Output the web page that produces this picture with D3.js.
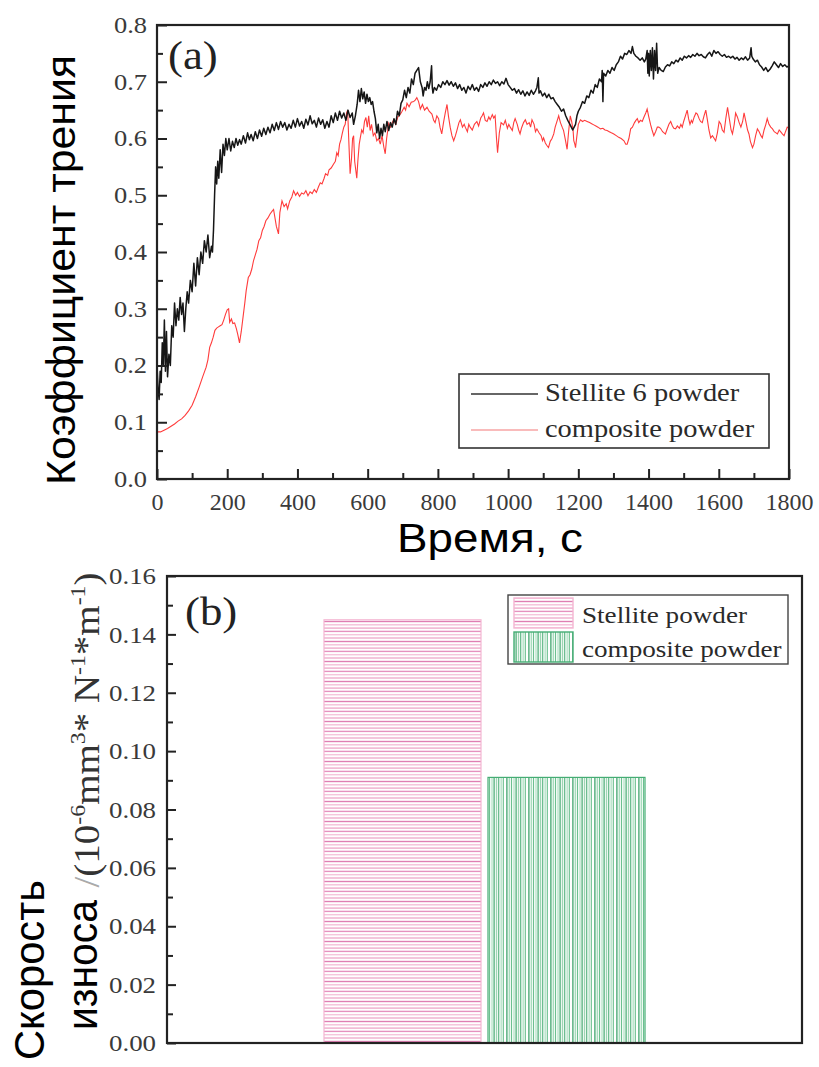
<!DOCTYPE html>
<html><head><meta charset="utf-8">
<script src="https://cdn.jsdelivr.net/npm/d3@7"></script>
<style>html,body{margin:0;padding:0;background:#fff}svg{display:block}</style>
</head><body><svg id="c" width="819" height="1067"></svg>
<script>
// ---------- DATA (a): friction coefficient vs time ----------
const timeTicks = [0,200,400,600,800,1000,1200,1400,1600,1800];
const cofTicks = [0.0,0.1,0.2,0.3,0.4,0.5,0.6,0.7,0.8];
const seriesNames = ["Stellite 6 powder","composite powder"];
const stellite = [[0,0.20],[3,0.16],[6,0.14],[9,0.19],[12,0.17],[15,0.24],[18,0.20],[21,0.28],[24,0.19],[27,0.26],[30,0.18],[34,0.22],[38,0.20],[42,0.27],[46,0.25],[50,0.31],[54,0.27],[58,0.30],[62,0.28],[66,0.32],[70,0.29],[74,0.31],[78,0.26],[82,0.30],[86,0.33],[90,0.31],[95,0.35],[100,0.33],[105,0.38],[110,0.34],[115,0.39],[120,0.36],[125,0.40],[130,0.38],[135,0.42],[140,0.40],[145,0.43],[150,0.39],[155,0.41],[158,0.40],[161,0.44],[164,0.50],[167,0.55],[170,0.52],[173,0.56],[176,0.53],[180,0.58],[184,0.54],[188,0.59],[192,0.57],[196,0.60],[200,0.58],[205,0.60],[210,0.578],[215,0.595],[220,0.584],[225,0.60],[230,0.588],[235,0.598],[240,0.59],[246,0.605],[252,0.592],[258,0.61],[263,0.598],[268,0.607],[274,0.596],[280,0.612],[286,0.60],[292,0.615],[298,0.604],[304,0.618],[310,0.607],[316,0.62],[322,0.61],[328,0.625],[334,0.614],[340,0.628],[346,0.616],[352,0.63],[358,0.62],[364,0.628],[370,0.615],[376,0.625],[382,0.618],[388,0.632],[394,0.62],[400,0.635],[406,0.622],[412,0.63],[418,0.618],[424,0.634],[430,0.624],[436,0.64],[442,0.626],[448,0.632],[454,0.62],[460,0.636],[466,0.625],[472,0.633],[478,0.618],[484,0.63],[490,0.62],[496,0.64],[502,0.628],[508,0.645],[514,0.632],[520,0.648],[526,0.636],[532,0.645],[538,0.632],[544,0.65],[550,0.637],[556,0.645],[560,0.625],[565,0.64],[570,0.66],[574,0.685],[578,0.665],[582,0.688],[586,0.67],[590,0.682],[594,0.662],[598,0.678],[602,0.665],[606,0.672],[610,0.66],[614,0.665],[618,0.648],[622,0.635],[626,0.61],[630,0.625],[634,0.60],[638,0.618],[642,0.605],[646,0.625],[650,0.612],[655,0.63],[660,0.614],[665,0.628],[670,0.62],[675,0.635],[680,0.625],[685,0.648],[690,0.64],[695,0.662],[700,0.668],[705,0.685],[710,0.672],[715,0.69],[720,0.68],[725,0.705],[730,0.695],[735,0.715],[740,0.72],[745,0.725],[750,0.70],[755,0.69],[758,0.675],[762,0.69],[766,0.685],[770,0.70],[774,0.688],[778,0.70],[782,0.728],[784,0.69],[786,0.68],[790,0.69],[796,0.685],[802,0.695],[808,0.69],[814,0.70],[820,0.695],[826,0.702],[832,0.694],[838,0.70],[844,0.692],[850,0.698],[856,0.688],[862,0.695],[868,0.685],[874,0.69],[880,0.68],[886,0.692],[892,0.686],[898,0.695],[904,0.685],[910,0.69],[916,0.683],[922,0.695],[928,0.69],[934,0.698],[940,0.692],[946,0.70],[952,0.695],[958,0.703],[964,0.697],[970,0.70],[976,0.693],[982,0.70],[988,0.696],[994,0.706],[1000,0.695],[1006,0.69],[1012,0.685],[1018,0.688],[1024,0.68],[1030,0.686],[1036,0.678],[1042,0.684],[1048,0.675],[1054,0.682],[1060,0.676],[1066,0.685],[1072,0.678],[1078,0.684],[1082,0.69],[1086,0.707],[1088,0.68],[1092,0.684],[1098,0.675],[1104,0.68],[1110,0.672],[1116,0.678],[1122,0.67],[1128,0.672],[1134,0.665],[1140,0.66],[1146,0.655],[1152,0.648],[1158,0.652],[1164,0.64],[1170,0.632],[1176,0.625],[1180,0.62],[1184,0.615],[1188,0.62],[1192,0.625],[1196,0.64],[1200,0.648],[1206,0.655],[1212,0.665],[1218,0.662],[1224,0.675],[1230,0.672],[1236,0.685],[1242,0.68],[1248,0.695],[1254,0.69],[1260,0.705],[1266,0.70],[1268,0.72],[1270,0.665],[1272,0.715],[1278,0.71],[1284,0.72],[1290,0.715],[1296,0.725],[1302,0.72],[1308,0.73],[1314,0.735],[1320,0.745],[1326,0.74],[1332,0.75],[1338,0.748],[1344,0.755],[1350,0.75],[1354,0.762],[1358,0.75],[1364,0.745],[1370,0.742],[1376,0.738],[1382,0.742],[1388,0.735],[1392,0.74],[1396,0.755],[1398,0.715],[1400,0.75],[1402,0.71],[1405,0.755],[1408,0.72],[1411,0.76],[1414,0.705],[1417,0.755],[1420,0.72],[1423,0.768],[1426,0.715],[1430,0.725],[1436,0.72],[1442,0.718],[1448,0.726],[1454,0.73],[1460,0.728],[1466,0.735],[1472,0.732],[1478,0.738],[1484,0.735],[1490,0.742],[1496,0.738],[1502,0.745],[1508,0.742],[1514,0.746],[1520,0.743],[1526,0.748],[1532,0.745],[1538,0.75],[1544,0.746],[1550,0.748],[1556,0.744],[1562,0.742],[1568,0.748],[1574,0.752],[1580,0.745],[1586,0.755],[1592,0.75],[1598,0.753],[1604,0.748],[1610,0.745],[1616,0.748],[1622,0.743],[1628,0.745],[1634,0.742],[1640,0.745],[1646,0.74],[1652,0.743],[1658,0.738],[1664,0.742],[1670,0.739],[1676,0.744],[1682,0.738],[1688,0.742],[1692,0.76],[1694,0.745],[1698,0.74],[1704,0.735],[1710,0.738],[1716,0.73],[1722,0.726],[1728,0.72],[1734,0.725],[1740,0.718],[1746,0.722],[1752,0.728],[1758,0.735],[1764,0.73],[1770,0.725],[1776,0.732],[1782,0.727],[1788,0.73],[1794,0.726],[1800,0.728]];
const composite = [[0,0.083],[10,0.083],[20,0.086],[30,0.089],[40,0.093],[50,0.097],[60,0.102],[70,0.106],[80,0.112],[90,0.12],[100,0.13],[110,0.145],[120,0.162],[130,0.18],[140,0.197],[145,0.21],[150,0.232],[155,0.24],[160,0.25],[165,0.262],[170,0.266],[175,0.268],[180,0.27],[185,0.272],[190,0.28],[195,0.29],[200,0.298],[204,0.30],[207,0.276],[212,0.282],[216,0.274],[221,0.275],[226,0.265],[230,0.255],[235,0.24],[240,0.26],[244,0.28],[250,0.31],[254,0.332],[260,0.355],[265,0.36],[270,0.37],[275,0.385],[280,0.395],[285,0.405],[290,0.42],[295,0.425],[300,0.438],[305,0.445],[310,0.455],[316,0.46],[322,0.467],[328,0.472],[332,0.475],[336,0.46],[340,0.445],[346,0.432],[350,0.47],[356,0.49],[362,0.48],[368,0.485],[372,0.476],[378,0.49],[384,0.497],[389,0.508],[395,0.5],[400,0.505],[406,0.498],[412,0.504],[418,0.502],[424,0.508],[430,0.499],[436,0.506],[442,0.503],[448,0.51],[454,0.505],[460,0.515],[465,0.522],[470,0.52],[476,0.53],[480,0.538],[486,0.535],[490,0.545],[496,0.548],[503,0.555],[508,0.56],[512,0.575],[516,0.57],[520,0.59],[524,0.598],[528,0.61],[532,0.62],[536,0.625],[540,0.645],[543,0.65],[546,0.6],[550,0.538],[554,0.565],[557,0.6],[560,0.605],[563,0.56],[566,0.545],[569,0.53],[572,0.56],[576,0.59],[579,0.601],[583,0.615],[587,0.61],[591,0.63],[595,0.637],[599,0.62],[603,0.64],[607,0.614],[611,0.625],[616,0.605],[621,0.61],[626,0.596],[631,0.6],[636,0.59],[641,0.605],[646,0.585],[650,0.573],[654,0.6],[660,0.627],[665,0.62],[670,0.628],[674,0.633],[680,0.625],[686,0.638],[693,0.643],[698,0.648],[704,0.655],[708,0.65],[712,0.662],[718,0.656],[724,0.664],[731,0.665],[736,0.668],[740,0.672],[745,0.665],[750,0.652],[756,0.66],[762,0.65],[769,0.655],[775,0.648],[783,0.643],[788,0.632],[792,0.628],[797,0.64],[802,0.635],[806,0.62],[811,0.608],[816,0.628],[821,0.645],[826,0.66],[830,0.64],[835,0.62],[840,0.605],[845,0.596],[850,0.605],[854,0.614],[860,0.628],[864,0.633],[870,0.62],[875,0.625],[878,0.62],[884,0.612],[888,0.625],[892,0.62],[898,0.615],[904,0.625],[911,0.63],[916,0.622],[922,0.636],[926,0.64],[930,0.645],[935,0.632],[940,0.63],[945,0.638],[949,0.633],[955,0.642],[959,0.636],[963,0.64],[967,0.6],[970,0.575],[975,0.61],[980,0.628],[987,0.624],[992,0.632],[998,0.618],[1002,0.625],[1006,0.62],[1012,0.614],[1016,0.628],[1020,0.635],[1026,0.625],[1030,0.615],[1034,0.608],[1038,0.618],[1044,0.628],[1049,0.633],[1054,0.625],[1060,0.628],[1064,0.62],[1068,0.633],[1074,0.625],[1078,0.612],[1082,0.617],[1088,0.61],[1094,0.605],[1098,0.596],[1101,0.601],[1106,0.592],[1110,0.588],[1115,0.584],[1120,0.595],[1125,0.6],[1130,0.608],[1134,0.62],[1140,0.632],[1144,0.64],[1149,0.628],[1154,0.62],[1158,0.614],[1163,0.598],[1168,0.581],[1172,0.61],[1177,0.64],[1181,0.63],[1185,0.615],[1187,0.596],[1190,0.59],[1192,0.584],[1196,0.605],[1200,0.625],[1206,0.633],[1212,0.63],[1218,0.632],[1225,0.63],[1232,0.628],[1238,0.626],[1244,0.624],[1250,0.622],[1256,0.62],[1263,0.617],[1270,0.618],[1276,0.615],[1282,0.614],[1288,0.612],[1294,0.61],[1301,0.608],[1308,0.605],[1315,0.602],[1322,0.6],[1330,0.596],[1335,0.59],[1339,0.59],[1344,0.6],[1349,0.617],[1354,0.62],[1360,0.628],[1364,0.632],[1368,0.635],[1372,0.628],[1377,0.632],[1382,0.63],[1387,0.638],[1392,0.645],[1396,0.652],[1400,0.64],[1406,0.624],[1410,0.615],[1415,0.605],[1420,0.612],[1425,0.62],[1429,0.62],[1434,0.618],[1440,0.612],[1444,0.61],[1448,0.608],[1452,0.615],[1458,0.625],[1463,0.63],[1468,0.622],[1472,0.618],[1477,0.617],[1482,0.622],[1488,0.618],[1492,0.625],[1496,0.62],[1500,0.63],[1505,0.64],[1510,0.65],[1514,0.635],[1518,0.625],[1522,0.632],[1525,0.628],[1530,0.638],[1535,0.645],[1539,0.643],[1544,0.635],[1548,0.63],[1553,0.628],[1558,0.64],[1563,0.65],[1567,0.635],[1572,0.615],[1577,0.601],[1582,0.605],[1587,0.6],[1591,0.596],[1596,0.61],[1601,0.63],[1606,0.625],[1610,0.615],[1615,0.611],[1620,0.635],[1625,0.655],[1630,0.635],[1635,0.615],[1639,0.608],[1644,0.625],[1648,0.645],[1653,0.638],[1658,0.628],[1663,0.62],[1668,0.63],[1672,0.645],[1677,0.63],[1682,0.615],[1686,0.608],[1690,0.595],[1696,0.584],[1700,0.59],[1705,0.605],[1710,0.617],[1715,0.612],[1720,0.605],[1724,0.601],[1729,0.615],[1734,0.625],[1738,0.635],[1743,0.625],[1748,0.62],[1753,0.617],[1758,0.612],[1763,0.61],[1767,0.608],[1772,0.615],[1776,0.612],[1781,0.608],[1786,0.605],[1790,0.612],[1795,0.62],[1800,0.618]];

// ---------- DATA (b): wear rate ----------
const barCategories = ["Stellite powder","composite powder"];
const wearRates = [0.145, 0.091];
const wearTicks = [0.00,0.02,0.04,0.06,0.08,0.10,0.12,0.14,0.16];

// ---------- DRAW ----------
const svg = d3.select("#c");
const SERIF = "'Liberation Serif','Times New Roman',serif";
const SANS = "'Liberation Sans',Arial,sans-serif";
function stretch(sel, k){ sel.each(function(){ const w=this.getComputedTextLength(); this.setAttribute("textLength", w*k); this.setAttribute("lengthAdjust","spacingAndGlyphs"); }); }

const defs = svg.append("defs");
// pink horizontal hatch
const pp = defs.append("pattern").attr("id","pinkHatch").attr("patternUnits","userSpaceOnUse").attr("width",10).attr("height",20);
[[0.8,"#df7fb3"],[4.1,"#f4c0d9"],[7.4,"#eeaccc"],[10.7,"#e592bf"],[14.0,"#f5c6dc"],[17.3,"#eeaecd"]].forEach(([yy,c])=>{
  pp.append("rect").attr("x",0).attr("y",yy).attr("width",10).attr("height",1.4).attr("fill",c);
});
// green vertical hatch
const gp = defs.append("pattern").attr("id","greenHatch").attr("patternUnits","userSpaceOnUse").attr("width",22).attr("height",10);
[[0.3,"#2f9c60",1.2],[2.6,"#a8dcbd",1.4],[4.9,"#6cc08f",1.2],[7.2,"#c2e8d1",1.6],[9.5,"#3fa86d",1.2],[11.8,"#9ed5b4",1.4],[14.1,"#5db684",1.2],[16.4,"#bfe6cf",1.6],[18.7,"#7cc79b",1.3]].forEach(([xx,c,w])=>{
  gp.append("rect").attr("x",xx).attr("y",0).attr("width",w).attr("height",10).attr("fill",c);
});

// ===== Panel (a) =====
const A = {l:157, r:789, t:25, b:479};
const xA = d3.scaleLinear().domain([0,1800]).range([A.l, A.r]);
const yA = d3.scaleLinear().domain([0,0.8]).range([A.b, A.t]);
const gA = svg.append("g");

defs.append("clipPath").attr("id","clipA").append("rect").attr("x",A.l).attr("y",A.t).attr("width",A.r-A.l).attr("height",A.b-A.t);

const line = d3.line().x(d=>xA(d[0])).y(d=>yA(d[1]));
gA.append("path").datum(composite).attr("d",line).attr("fill","none").attr("stroke","#ff3b3b").attr("stroke-width",1.1).attr("clip-path","url(#clipA)");
gA.append("path").datum(stellite).attr("d",line).attr("fill","none").attr("stroke","#161616").attr("stroke-width",1.5).attr("stroke-linejoin","round").attr("clip-path","url(#clipA)");

// minor ticks
gA.append("g").attr("transform",`translate(0,${A.b})`)
  .call(d3.axisBottom(xA).tickValues(d3.range(100,1800,200)).tickSize(-6).tickFormat(""))
  .call(g=>g.select(".domain").remove()).selectAll("line").attr("stroke","#222").attr("stroke-width",2);
gA.append("g").attr("transform",`translate(${A.l},0)`)
  .call(d3.axisLeft(yA).tickValues(d3.range(0.05,0.8,0.1)).tickSize(-6).tickFormat(""))
  .call(g=>g.select(".domain").remove()).selectAll("line").attr("stroke","#222").attr("stroke-width",2);
// major ticks
const axXA = gA.append("g").attr("transform",`translate(0,${A.b})`)
  .call(d3.axisBottom(xA).tickValues(timeTicks).tickSize(-10).tickPadding(14).tickFormat(d3.format("d")))
  .call(g=>g.select(".domain").remove());
axXA.selectAll("line").attr("stroke","#222").attr("stroke-width",2);
axXA.selectAll("text").attr("font-family",SERIF).attr("font-size",24).attr("fill","#3a3a3a").attr("dy","0.71em");
const axYA = gA.append("g").attr("transform",`translate(${A.l},0)`)
  .call(d3.axisLeft(yA).tickValues(cofTicks).tickSize(-10).tickPadding(10).tickFormat(d3.format(".1f")))
  .call(g=>g.select(".domain").remove());
axYA.selectAll("line").attr("stroke","#222").attr("stroke-width",2);
axYA.selectAll("text").attr("font-family",SERIF).attr("font-size",23).attr("fill","#3a3a3a");
stretch(axYA.selectAll("text"),1.15);
gA.append("rect").attr("x",A.l).attr("y",A.t).attr("width",A.r-A.l).attr("height",A.b-A.t).attr("fill","none").attr("stroke","#222").attr("stroke-width",2.2);

gA.append("text").attr("x",168).attr("y",69).attr("font-family",SERIF).attr("font-size",40).attr("fill","#222").text("(a)").call(s=>stretch(s,1.12));

// legend (a)
const lgA = gA.append("g");
lgA.append("rect").attr("x",459).attr("y",374).attr("width",310).attr("height",74).attr("fill","#fff").attr("stroke","#333").attr("stroke-width",1.6);
const legColorsA = ["#333","#f7a5a5"];
seriesNames.forEach((n,i)=>{
  const yy = 394 + i*36;
  lgA.append("line").attr("x1",471).attr("x2",538).attr("y1",yy).attr("y2",yy).attr("stroke",legColorsA[i]).attr("stroke-width",1.5);
  lgA.append("text").attr("x",545).attr("y",yy+7).attr("font-family",SERIF).attr("font-size",24.5).attr("fill","#2a2a2a").text(n).call(s=>stretch(s,1.16));
});

// axis titles (a)
svg.append("text").attr("x",490).attr("y",552).attr("text-anchor","middle").attr("font-family",SANS).attr("font-size",41).attr("fill","#000")
  .attr("textLength",186).attr("lengthAdjust","spacingAndGlyphs").text("Время, с");
svg.append("text").attr("transform","translate(75,270) rotate(-90)").attr("text-anchor","middle").attr("font-family",SANS).attr("font-size",41).attr("fill","#000")
  .attr("textLength",430).attr("lengthAdjust","spacingAndGlyphs").text("Коэффициент трения");

// ===== Panel (b) =====
const B = {l:167, r:802, t:576, b:1043};
const yB = d3.scaleLinear().domain([0,0.16]).range([B.b, B.t]);
const xB = d3.scaleBand().domain(barCategories).range([324,645]).paddingInner(0.0427).paddingOuter(0);
const gB = svg.append("g");
const barFills = ["url(#pinkHatch)","url(#greenHatch)"];
const barStrokes = ["#f4b6d2","#45ad74"];
gB.selectAll("rect.bar").data(barCategories).join("rect").attr("class","bar")
  .attr("x",d=>xB(d)).attr("width",xB.bandwidth())
  .attr("y",(d,i)=>yB(wearRates[i])).attr("height",(d,i)=>B.b-yB(wearRates[i]))
  .attr("fill",(d,i)=>barFills[i]).attr("stroke",(d,i)=>barStrokes[i]).attr("stroke-width",1.2);

gB.append("g").attr("transform",`translate(${B.l},0)`)
  .call(d3.axisLeft(yB).tickValues(d3.range(0.01,0.16,0.02)).tickSize(-6).tickFormat(""))
  .call(g=>g.select(".domain").remove()).selectAll("line").attr("stroke","#222").attr("stroke-width",2);
const axYB = gB.append("g").attr("transform",`translate(${B.l},0)`)
  .call(d3.axisLeft(yB).tickValues(wearTicks).tickSize(-9).tickPadding(11).tickFormat(d3.format(".2f")))
  .call(g=>g.select(".domain").remove());
axYB.selectAll("line").attr("stroke","#222").attr("stroke-width",2);
axYB.selectAll("text").attr("font-family",SERIF).attr("font-size",24).attr("fill","#3a3a3a");
stretch(axYB.selectAll("text"),1.12);
gB.append("rect").attr("x",B.l).attr("y",B.t).attr("width",B.r-B.l).attr("height",B.b-B.t).attr("fill","none").attr("stroke","#222").attr("stroke-width",2.2);

gB.append("text").attr("x",185).attr("y",625).attr("font-family",SERIF).attr("font-size",40).attr("fill","#222").text("(b)").call(s=>stretch(s,1.12));

// legend (b)
const lgB = gB.append("g");
lgB.append("rect").attr("x",508).attr("y",595).attr("width",280).attr("height",69).attr("fill","#fff").attr("stroke","#444").attr("stroke-width",1.4);
barCategories.forEach((n,i)=>{
  const yy = 598 + i*34;
  lgB.append("rect").attr("x",514).attr("y",yy).attr("width",59).attr("height",30).attr("fill",barFills[i]).attr("stroke",barStrokes[i]).attr("stroke-width",1.4);
  lgB.append("text").attr("x",582).attr("y",yy+25).attr("font-family",SERIF).attr("font-size",24).attr("fill","#2a2a2a").text(n).call(s=>stretch(s,1.13));
});

// y title (b)
svg.append("text").attr("transform","translate(44,970) rotate(-90)").attr("text-anchor","middle").attr("font-family",SANS).attr("font-size",42).attr("fill","#000")
  .attr("textLength",180).attr("lengthAdjust","spacingAndGlyphs").text("Скорость");
svg.append("text").attr("transform","translate(97,965) rotate(-90)").attr("text-anchor","middle").attr("font-family",SANS).attr("font-size",42).attr("fill","#000")
  .attr("textLength",130).attr("lengthAdjust","spacingAndGlyphs").text("износа");
const unit = svg.append("text").attr("transform","translate(99,730) rotate(-90)").attr("text-anchor","middle").attr("font-family",SERIF).attr("font-size",36).attr("fill","#333")
  .attr("textLength",315).attr("lengthAdjust","spacingAndGlyphs");
unit.append("tspan").attr("fill","#aaa").text("/");
unit.append("tspan").text("(10");
unit.append("tspan").attr("dy",-14).attr("font-size",22).text("-6");
unit.append("tspan").attr("dy",14).text("mm");
unit.append("tspan").attr("dy",-14).attr("font-size",22).text("3");
unit.append("tspan").attr("dy",14).text("* N");
unit.append("tspan").attr("dy",-14).attr("font-size",22).text("-1");
unit.append("tspan").attr("dy",14).text("*m");
unit.append("tspan").attr("dy",-14).attr("font-size",22).text("-1");
unit.append("tspan").attr("dy",14).text(")");
</script></body></html>
